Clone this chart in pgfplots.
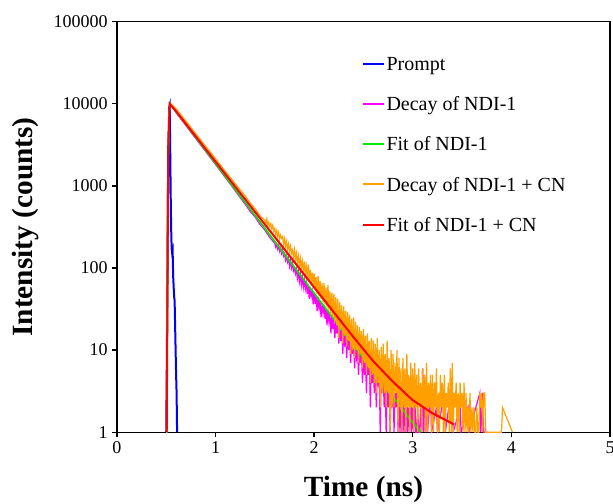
\documentclass[border=0pt]{standalone}
\usepackage{fontspec}
\setmainfont{Liberation Serif}
\usepackage{pgfplots}
\pgfplotsset{compat=1.18}
\definecolor{irfblue}{RGB}{0,0,255}
\definecolor{decaymag}{RGB}{255,0,255}
\definecolor{fitgreen}{RGB}{0,230,0}
\definecolor{decayorange}{RGB}{255,160,0}
\definecolor{fitred}{RGB}{255,0,0}

\begin{document}
\begin{tikzpicture}
\begin{axis}[
    name=ax,
    scale only axis,
    width=370pt, height=308pt,
    xmin=0, xmax=5,
    ymode=log, ymin=1, ymax=100000,
    xtick={0,1,2,3,4,5},
    ytick={1,10,100,1000,10000,100000},
    yticklabels={1,10,100,1000,10000,100000},
    yminorticks=false,
    tick pos=left,
    tick align=outside,
    major tick length=3.5pt,
    axis line style={line width=1pt},
    every tick/.style={black, line width=1pt},
    /pgf/number format/assume math mode=true,
    ticklabel style={font=\fontsize{13.5}{16}\selectfont},
    xlabel={\textbf{Time (ns)}},
    ylabel={\textbf{Intensity (counts)}},
    label style={font=\fontsize{22}{26}\selectfont},
    xlabel style={yshift=-10pt},
    ylabel style={yshift=4pt},
    legend style={at={(0.496,0.918)}, anchor=north west, draw=none, fill=none,
        inner sep=0pt, row sep=16.2pt,
        nodes={inner sep=1pt, font=\fontsize{15}{17}\selectfont}},
    legend cell align=left,
    legend image code/.code={\draw[#1, line width=1.6pt] (0pt,0.5pt) -- (16pt,0.5pt);},
]
% Prompt (IRF)
\addplot[color=irfblue, line width=1.5pt] coordinates {
(0.50,1)(0.51,30)(0.52,2000)(0.53,9000)(0.535,9500)(0.54,3000)(0.545,800)
(0.55,300)(0.555,170)(0.56,150)(0.565,160)(0.57,80)(0.575,60)(0.58,45)
(0.585,40)(0.59,20)(0.595,10)(0.60,5)(0.605,3)(0.61,1)
};
\addlegendentry{Prompt}
% Decay of NDI-1
\addplot[color=decaymag, line width=0.9pt] coordinates {
(0.50,1)(0.505,1)(0.515,700)(0.525,5800)(0.535,9700)(0.545,9900)(0.55,9700)
(0.60,7800)(0.65,6500)(0.70,5420)(0.75,4520)(0.80,3760)(0.85,3140)(0.90,2620)
(0.95,2180)(1.00,1820)(1.05,1515)(1.10,1260)(1.15,1050)(1.20,870)(1.25,720)
(1.30,600)(1.35,490)(1.40,420)(1.45,340)(1.50,290)(1.55,235)
(1.60,200)(1.61,180)(1.62,195)(1.63,170)(1.64,188)(1.65,160)(1.66,175)(1.67,150)(1.68,168)(1.69,140)
(1.70,150)(1.71,125)(1.72,140)(1.73,118)(1.74,132)(1.75,105)(1.76,125)(1.77,100)(1.78,115)(1.79,92)
(1.80,100)(1.81,85)(1.82,96)(1.83,75)(1.84,90)(1.85,68)(1.86,85)(1.87,62)(1.88,78)(1.89,58)
(1.90,72)(1.91,55)(1.92,66)(1.93,48)(1.94,62)(1.95,42)(1.96,58)(1.97,45)(1.98,52)(1.99,36)
(2.00,50)(2.01,36)(2.02,46)(2.03,30)(2.04,44)(2.05,32)(2.06,40)(2.07,25)(2.08,37)(2.09,28)
(2.10,35)(2.11,24)(2.12,32)(2.13,20)(2.14,30)(2.15,22)(2.16,28)(2.17,16)(2.18,26)(2.19,18)
(2.20,24)(2.21,14)(2.22,22)(2.23,16)(2.24,21)(2.25,12)(2.26,19)(2.27,13)(2.28,18)(2.29,9)
(2.30,17)(2.31,11)(2.32,16)(2.33,8)(2.34,15)(2.35,10)(2.36,14)(2.37,7)(2.38,13)(2.39,9)
(2.40,12)(2.41,6)(2.42,11)(2.43,8)(2.44,10)(2.45,5)(2.46,10)(2.47,7)(2.48,9)(2.49,4)
(2.50,9)(2.51,5)(2.52,8)(2.53,3)(2.54,8)(2.55,5)(2.56,7)(2.57,2)(2.58,7)(2.59,4)
(2.60,6)(2.61,3)(2.62,6)(2.63,2)(2.64,5)(2.65,4)(2.66,5)(2.67,1)(2.68,6)(2.69,3)
(2.70,5)(2.71,2)(2.72,4)(2.73,1)(2.74,5)(2.75,2)(2.76,4)(2.77,1)(2.78,3)(2.79,2)
(2.80,4)(2.81,1)(2.82,3)(2.83,2)(2.84,4)(2.85,1)(2.86,3)(2.87,1)(2.88,2)(2.89,1)
(2.90,3)(2.91,1)(2.92,2)(2.93,1)(2.94,4)(2.95,1)(2.96,2)(2.97,1)(2.98,3)(2.99,1)
(3.00,2)(3.01,1)(3.02,3)(3.03,1)(3.04,1)(3.05,2)(3.06,1)(3.07,1)(3.08,2)(3.09,1)
(3.10,6)(3.11,1)(3.12,5)(3.13,1)(3.14,2)(3.15,1)(3.18,3)(3.19,1)(3.24,2)(3.25,1)
(3.32,3)(3.33,1)(3.40,4)(3.41,1)(3.48,2)(3.49,1)(3.56,2)(3.57,1)(3.68,3)(3.69,1)
(3.71,3)(3.72,1)(3.76,1)
};
\addlegendentry{Decay of NDI-1}
% Fit of NDI-1
\addplot[color=fitgreen, line width=1.3pt] coordinates {
(0.505,1)(0.515,900)(0.53,8000)(0.54,10000)(0.60,8030)(0.80,3880)(1.00,1875)
(1.20,906)(1.40,438)(1.60,211)(1.80,102)(2.00,49)(2.20,23.8)(2.40,11.5)
(2.60,5.6)(2.80,2.7)(3.00,1.3)(3.08,1.0)
};
\addlegendentry{Fit of NDI-1}
% Decay of NDI-1 + CN
\addplot[color=decayorange, line width=0.9pt] coordinates {
(0.50,1)(0.505,1)(0.515,800)(0.525,6000)(0.535,9800)(0.545,10100)(0.55,9900)
(0.60,8700)(0.65,7300)(0.70,6150)(0.75,5150)(0.80,4320)(0.85,3620)(0.90,3040)
(0.95,2550)(1.00,2140)(1.05,1790)(1.10,1500)(1.15,1260)(1.20,1060)(1.25,890)
(1.30,760)(1.35,620)(1.40,530)(1.45,435)
(1.50,380)(1.51,350)(1.52,395)(1.53,330)(1.54,360)(1.55,320)(1.56,345)(1.57,300)(1.58,330)(1.59,280)
(1.60,300)(1.61,255)(1.62,285)(1.63,240)(1.64,270)(1.65,225)(1.66,250)(1.67,230)(1.68,240)(1.69,195)
(1.70,225)(1.71,180)(1.72,210)(1.73,170)(1.74,195)(1.75,160)(1.76,185)(1.77,150)(1.78,165)(1.79,135)
(1.80,165)(1.81,125)(1.82,150)(1.83,115)(1.84,140)(1.85,105)(1.86,130)(1.87,100)(1.88,120)(1.89,90)
(1.90,120)(1.91,85)(1.92,105)(1.93,75)(1.94,110)(1.95,70)(1.96,95)(1.97,65)(1.98,88)(1.99,60)
(2.00,85)(2.01,55)(2.02,78)(2.03,48)(2.04,80)(2.05,45)(2.06,70)(2.07,42)(2.08,65)(2.09,38)
(2.10,66)(2.11,36)(2.12,58)(2.13,33)(2.14,62)(2.15,30)(2.16,52)(2.17,27)(2.18,50)(2.19,25)
(2.20,48)(2.21,22)(2.22,44)(2.23,20)(2.24,42)(2.25,14)(2.26,38)(2.27,18)(2.28,35)(2.29,12)
(2.30,34)(2.31,15)(2.32,30)(2.33,11)(2.34,29)(2.35,13)(2.36,27)(2.37,9)(2.38,24)(2.39,10)
(2.40,25)(2.41,8)(2.42,22)(2.43,10)(2.44,20)(2.45,7)(2.46,19)(2.47,9)(2.48,17)(2.49,6)
(2.50,18)(2.51,7)(2.52,15)(2.53,5)(2.54,16)(2.55,6)(2.56,13)(2.57,4)(2.58,14)(2.59,5)
(2.60,13)(2.61,4)(2.62,12)(2.63,3)(2.64,14)(2.65,4)(2.66,10)(2.67,2)(2.68,11)(2.69,3)
(2.70,12)(2.71,3)(2.72,9)(2.73,2)(2.74,13)(2.75,3)(2.76,8)(2.77,1)(2.78,10)(2.79,2)
(2.80,9)(2.81,2)(2.82,7)(2.83,3)(2.84,10)(2.85,1)(2.86,8)(2.87,2)(2.88,6)(2.89,1)
(2.90,8)(2.91,2)(2.92,6)(2.93,1)(2.94,9)(2.95,2)(2.96,5)(2.97,1)(2.98,7)(2.99,2)
(3.00,6)(3.01,1)(3.02,7)(3.03,2)(3.04,5)(3.05,1)(3.06,6)(3.07,2)(3.08,4)(3.09,1)
(3.10,6)(3.11,2)(3.12,5)(3.13,1)(3.14,7)(3.15,1)(3.16,4)(3.17,2)(3.18,5)(3.19,1)
(3.20,5)(3.21,1)(3.22,4)(3.23,2)(3.24,6)(3.25,1)(3.26,3)(3.27,1)(3.28,5)(3.29,2)
(3.30,4)(3.31,1)(3.32,5)(3.33,1)(3.34,3)(3.35,2)(3.36,4)(3.37,1)(3.38,6)(3.39,1)
(3.40,7)(3.41,1)(3.42,3)(3.43,2)(3.44,4)(3.45,1)(3.46,3)(3.47,1)(3.48,4)(3.49,2)
(3.50,3)(3.51,1)(3.52,4)(3.53,1)(3.54,3)(3.55,1)(3.56,2)(3.57,1)(3.58,3)(3.59,1)
(3.60,2)(3.61,1)(3.62,2)(3.63,1)(3.64,1)(3.65,2)(3.66,1)(3.67,1)(3.68,3)(3.69,2)
(3.70,3)(3.71,1)(3.72,3)(3.73,3)(3.74,1)(3.75,1)(3.76,1)(3.80,1)(3.90,1)(3.91,2)(4.01,1)
};
\addlegendentry{Decay of NDI-1 + CN}
% Fit of NDI-1 + CN
\addplot[color=fitred, line width=1.5pt] coordinates {
(0.505,1)(0.52,3000)(0.535,10000)(0.60,8100)(0.80,4000)(1.00,1977)(1.20,977)
(1.40,483)(1.60,239)(1.80,118)(2.00,58)(2.20,28.8)(2.40,14.3)(2.60,7.3)
(2.80,4.1)(3.00,2.45)(3.20,1.7)(3.42,1.24)
};
\addlegendentry{Fit of NDI-1 + CN}
\end{axis}
\pgfresetboundingbox
\path ([xshift=-87.75pt,yshift=-53.5pt]ax.south west) rectangle ([xshift=2.25pt,yshift=16.3pt]ax.north east);
\end{tikzpicture}
\end{document}
